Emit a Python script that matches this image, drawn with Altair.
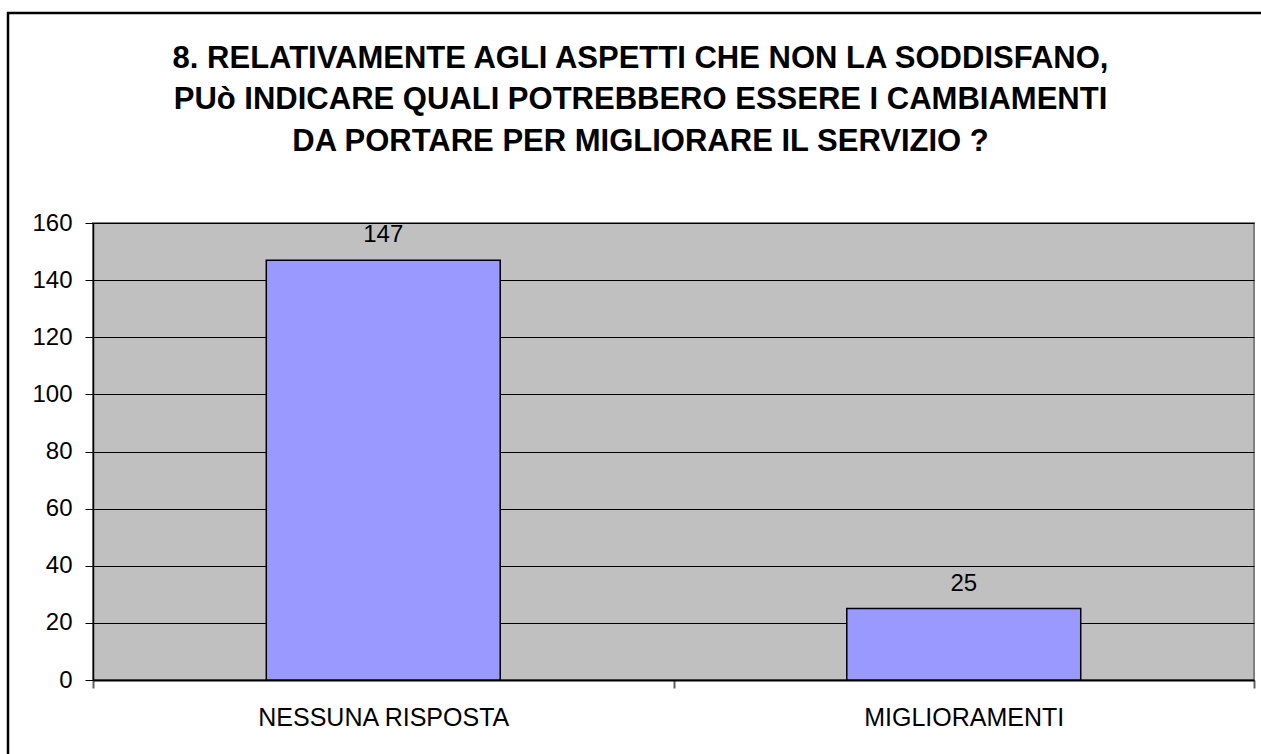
import altair as alt
import pandas as pd

categories = ["NESSUNA RISPOSTA", "MIGLIORAMENTI"]
values = [147, 25]
y_ticks = [0, 20, 40, 60, 80, 100, 120, 140, 160]
title_lines = [
    "8. RELATIVAMENTE AGLI ASPETTI CHE NON LA SODDISFANO,",
    "PUò INDICARE QUALI POTREBBERO ESSERE I CAMBIAMENTI",
    "DA PORTARE PER MIGLIORARE IL SERVIZIO ?",
]

df = pd.DataFrame({"cat": categories, "val": values})
FONT = "Liberation Sans"

x_enc = alt.X(
    "cat:N",
    sort=categories,
    scale=alt.Scale(paddingInner=0, paddingOuter=0),
    axis=alt.Axis(
        title=None,
        labelAngle=0,
        labelFont=FONT,
        labelFontSize=25,
        labelColor="black",
        labelPadding=17,
        labelLimit=600,
        tickBand="extent",
        tickSize=8,
        tickColor="#606060",
        tickWidth=2,
        domainColor="black",
        domainWidth=2,
        grid=False,
    ),
)
y_enc = alt.Y(
    "val:Q",
    scale=alt.Scale(domain=[0, 160], nice=False),
    axis=alt.Axis(
        title=None,
        values=y_ticks,
        labelFont=FONT,
        labelFontSize=24,
        labelColor="black",
        labelPadding=13,
        tickSize=8,
        tickColor="black",
        domainColor="black",
        domainWidth=1.5,
        grid=True,
        gridColor="black",
        gridWidth=1,
        gridOpacity=1,
    ),
)

bars = alt.Chart(df).mark_bar(
    color="#9999FF", stroke="black", strokeWidth=1.5,
    width=alt.RelativeBandSize(0.403),
).encode(x=x_enc, y=y_enc)

labels = alt.Chart(df).mark_text(
    font=FONT, fontSize=24, color="black", baseline="alphabetic", dy=-18,
).encode(x=alt.X("cat:N", sort=categories), y="val:Q", text="val:Q")

border = alt.Chart(pd.DataFrame({"a": [0]})).mark_rect(
    filled=False, stroke="black", strokeWidth=2.5,
).encode(
    x=alt.value(-85), x2=alt.value(1180),
    y=alt.value(-210), y2=alt.value(545),
)

chart = alt.layer(bars, labels, border).properties(
    width=1161,
    height=457,
    background="white",
    title=alt.TitleParams(
        text=title_lines,
        font=FONT,
        fontSize=31,
        fontWeight="bold",
        color="black",
        lineHeight=41.5,
        anchor="middle",
        dx=-33,
        offset=-146,
    ),
    padding={"left": 93, "top": 223, "right": 7, "bottom": 74},
    autosize=alt.AutoSizeParams(type="none"),
).configure_view(
    fill="#C0C0C0", stroke="#808080", strokeWidth=2,
)

chart.save("out.html", embed_options={"renderer": "svg", "actions": False})
